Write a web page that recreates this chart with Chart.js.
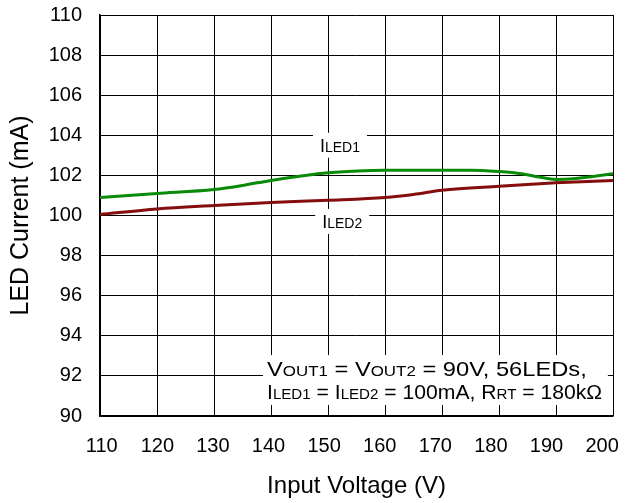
<!DOCTYPE html>
<html>
<head>
<meta charset="utf-8">
<script src="https://cdn.jsdelivr.net/npm/chart.js@4/dist/chart.umd.min.js"></script>
<style>
  html, body { margin: 0; padding: 0; background: #fff; }
  #wrap { width: 632px; height: 503px; }
</style>
</head>
<body>
<div id="wrap"><canvas id="chart" width="632" height="503"></canvas></div>
<script>
// --- data ---
const xTicks = [110, 120, 130, 140, 150, 160, 170, 180, 190, 200];
const yTicks = [90, 92, 94, 96, 98, 100, 102, 104, 106, 108, 110];
// the x tick labels in the source sit on a slightly tighter pitch than the grid
const xLabelMin = 109.69, xLabelMax = 201.96;

const led1Volts = [110, 120, 130, 135, 140, 145, 150, 160, 170, 175, 180, 184, 187, 190, 193, 200];
const led1Amps  = [100.9, 101.1, 101.3, 101.5, 101.75, 101.96, 102.13, 102.26, 102.26, 102.26, 102.19, 102.08, 101.92, 101.8, 101.83, 102.08];

const led2Volts = [110, 120, 130, 140, 150, 160, 165, 170, 180, 190, 200];
const led2Amps  = [100.05, 100.33, 100.5, 100.65, 100.76, 100.9, 101.05, 101.26, 101.46, 101.63, 101.75];

const FONT = "'Liberation Sans', Arial, sans-serif";

const toPoints = (xs, ys) => xs.map((x, i) => ({ x: x, y: ys[i] }));

// curve labels, anchored by centre x and baseline y (data coords)
const curveLabels = [
  { main: 'I', sub: 'LED1', x: 152.1, y: 103.18 },
  { main: 'I', sub: 'LED2', x: 152.5, y: 99.38 }
];

// condition lines; x1 = right end of the line in data units
const noteLines = [
  { y: 92.01, x1: 195.4, runs: [['V', false], ['OUT1', true], [' = V', false], ['OUT2', true], [' = 90V, 56LEDs,', false]] },
  { y: 90.85, x1: 198.1, runs: [['I', false], ['LED1', true], [' = I', false], ['LED2', true], [' = 100mA, R', false], ['RT', true], [' = 180k\u03A9', false]] }
];

// text runs: [text, small?] all on one baseline
function drawRuns(ctx, runs, x, y, big, small) {
  let cx = x;
  runs.forEach(r => {
    ctx.font = (r[1] ? small : big) + 'px ' + FONT;
    ctx.fillText(r[0], cx, y);
    cx += ctx.measureText(r[0]).width;
  });
}
function runsWidth(ctx, runs, big, small) {
  let w = 0;
  runs.forEach(r => {
    ctx.font = (r[1] ? small : big) + 'px ' + FONT;
    w += ctx.measureText(r[0]).width;
  });
  return w;
}

const notes = {
  id: 'notes',
  beforeDatasetsDraw(chart) {
    const { ctx, scales: { x, y } } = chart;
    ctx.save();
    ctx.fillStyle = '#fff';
    // condition box in lower right
    const bx0 = x.getPixelForValue(138.6), bx1 = x.getPixelForValue(199.1);
    const by0 = y.getPixelForValue(93.04), by1 = y.getPixelForValue(90.55);
    ctx.fillRect(bx0, by0, bx1 - bx0, by1 - by0);
    // label backgrounds
    curveLabels.forEach(l => {
      const px = x.getPixelForValue(l.x), py = y.getPixelForValue(l.y);
      const w = runsWidth(ctx, [[l.main, false], [l.sub, true]], 18, 14);
      ctx.fillRect(px - w / 2 - 7, py - 19, w + 14, 25);
    });
    ctx.restore();
  },
  afterDatasetsDraw(chart) {
    const { ctx, scales: { x, y } } = chart;
    ctx.save();
    ctx.fillStyle = '#000';
    ctx.textBaseline = 'alphabetic';
    ctx.textAlign = 'left';
    curveLabels.forEach(l => {
      const px = x.getPixelForValue(l.x), py = y.getPixelForValue(l.y);
      const runs = [[l.main, false], [l.sub, true]];
      const w = runsWidth(ctx, runs, 18, 14);
      drawRuns(ctx, runs, px - w / 2, py, 18, 14);
    });
    const tx = x.getPixelForValue(139.3);
    noteLines.forEach(n => {
      const target = x.getPixelForValue(n.x1) - tx;
      const k = target / runsWidth(ctx, n.runs, 21, 15);
      ctx.save();
      ctx.translate(tx, y.getPixelForValue(n.y));
      ctx.scale(k, 1);
      drawRuns(ctx, n.runs, 0, 0, 21, 15);
      ctx.restore();
    });
    ctx.restore();
  }
};

new Chart(document.getElementById('chart'), {
  type: 'line',
  data: {
    datasets: [
      {
        label: 'ILED1',
        data: toPoints(led1Volts, led1Amps),
        borderColor: '#098a09',
        borderWidth: 3,
        pointRadius: 0,
        cubicInterpolationMode: 'monotone'
      },
      {
        label: 'ILED2',
        data: toPoints(led2Volts, led2Amps),
        borderColor: '#850d0d',
        borderWidth: 3,
        pointRadius: 0,
        cubicInterpolationMode: 'monotone'
      }
    ]
  },
  options: {
    responsive: false,
    animation: false,
    devicePixelRatio: 1,
    layout: { padding: { top: 15, right: 19, left: 0, bottom: 0 } },
    plugins: { legend: { display: false }, tooltip: { enabled: false } },
    scales: {
      x: {
        type: 'linear',
        min: 110, max: 200,
        weight: 0,
        afterBuildTicks: s => { s.ticks = xTicks.map(v => ({ value: v })); },
        afterFit: s => { s.height = 0; s.paddingLeft = 0; s.paddingRight = 0; },
        grid: { color: '#000', lineWidth: 1, drawTicks: false },
        border: { color: '#000', width: 1.5 },
        ticks: { display: false }
      },
      xLabels: {
        type: 'linear',
        position: 'bottom',
        axis: 'x',
        min: xLabelMin, max: xLabelMax,
        weight: 1,
        afterBuildTicks: s => { s.ticks = xTicks.map(v => ({ value: v })); },
        afterFit: s => { s.height = 87; s.paddingLeft = 0; s.paddingRight = 0; },
        grid: { display: false, drawTicks: false },
        border: { display: false },
        ticks: { color: '#000', padding: 18, maxRotation: 0, font: { family: FONT, size: 20 } },
        title: { display: true, text: 'Input Voltage (V)', color: '#000', padding: { top: 0, bottom: 2 }, font: { family: FONT, size: 24 } }
      },
      y: {
        min: 90, max: 110,
        afterBuildTicks: s => { s.ticks = yTicks.map(v => ({ value: v })); },
        afterFit: s => { s.width = 100; s.paddingTop = 0; s.paddingBottom = 0; },
        grid: { color: '#000', lineWidth: 1, drawTicks: false },
        border: { color: '#000', width: 1.5 },
        ticks: { color: '#000', padding: 18, font: { family: FONT, size: 20 } },
        title: { display: true, text: 'LED Current (mA)', color: '#000', padding: { top: 6, bottom: 0 }, font: { family: FONT, size: 25 } }
      }
    }
  },
  plugins: [notes]
});
</script>
</body>
</html>
